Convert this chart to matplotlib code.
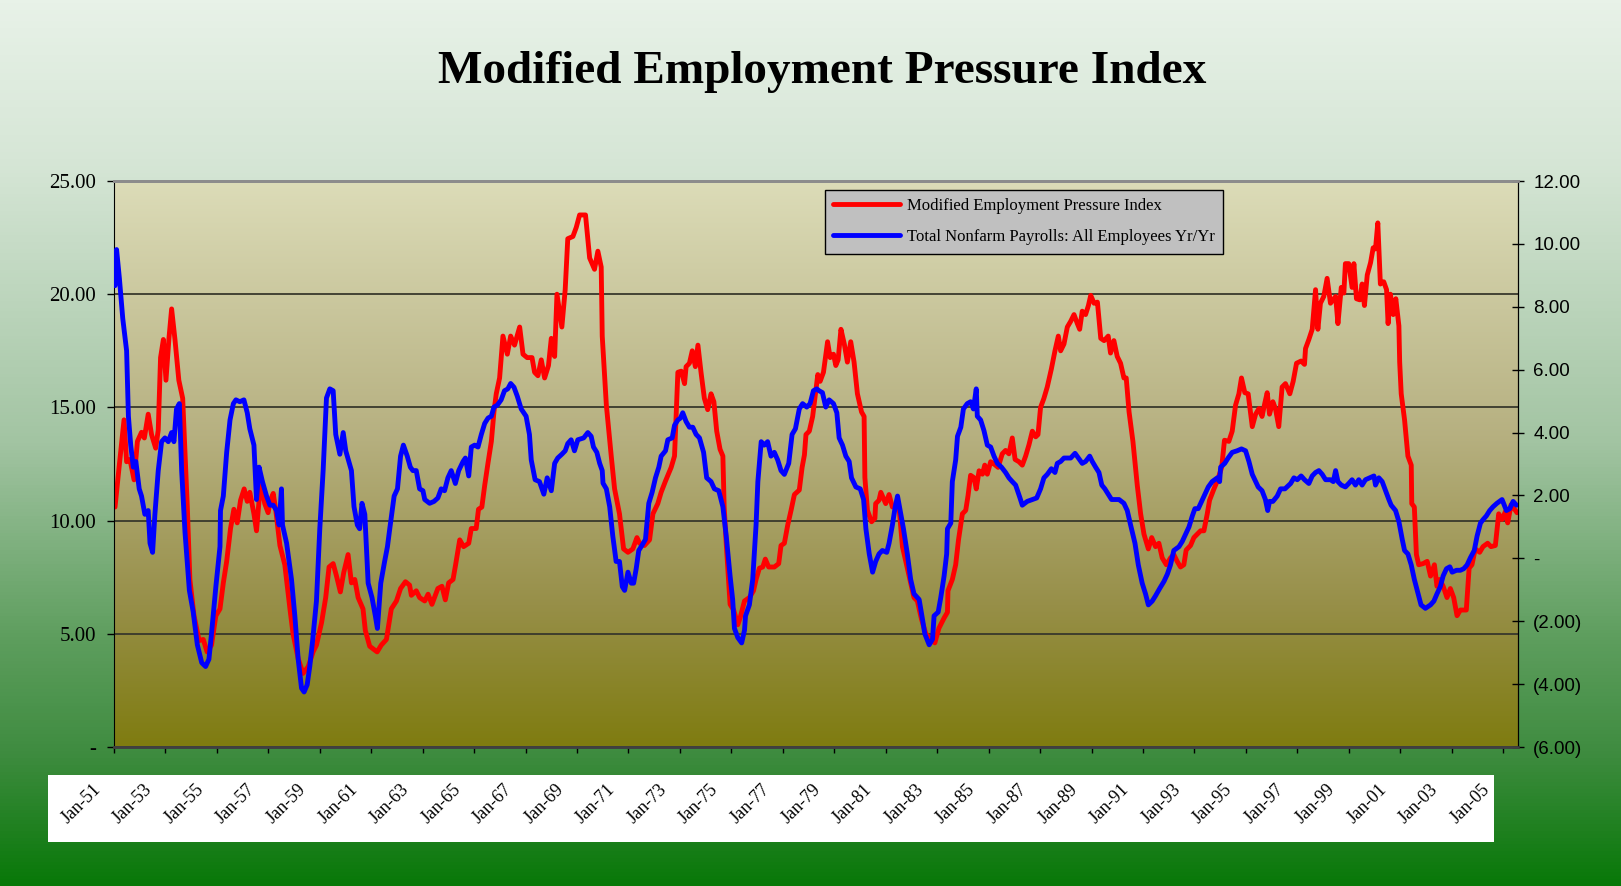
import matplotlib.pyplot as plt
import numpy as np
from matplotlib.colors import LinearSegmentedColormap
from matplotlib.patches import Rectangle
from matplotlib.transforms import ScaledTranslation

# values (x = decimal year)
# Modified Employment Pressure Index (left axis)
red_x = [1951.04, 1951.17, 1951.39, 1951.49, 1951.62, 1951.78, 1951.91, 1952.07, 1952.18, 1952.33,
         1952.46, 1952.62, 1952.72, 1952.81, 1952.92, 1953.02, 1953.14, 1953.24, 1953.37, 1953.52,
         1953.67, 1953.76, 1953.85, 1953.95, 1954.11, 1954.31, 1954.47, 1954.62, 1954.79, 1954.96,
         1955.12, 1955.25, 1955.38, 1955.53, 1955.66, 1955.79, 1955.92, 1956.06, 1956.18, 1956.28,
         1956.44, 1956.54, 1956.64, 1956.73, 1956.86, 1956.99, 1957.08, 1957.19, 1957.29, 1957.45,
         1957.64, 1957.84, 1957.96, 1958.16, 1958.35, 1958.55, 1958.74, 1958.87, 1959.07, 1959.23,
         1959.36, 1959.52, 1959.65, 1959.80, 1959.93, 1960.10,
         1960.23, 1960.36, 1960.49, 1960.68, 1960.77, 1960.94, 1961.23, 1961.39, 1961.59, 1961.78,
         1961.98, 1962.14, 1962.33, 1962.49, 1962.56, 1962.75, 1962.88, 1963.08, 1963.21, 1963.36,
         1963.59, 1963.75, 1963.88, 1964.01, 1964.18, 1964.28, 1964.44, 1964.59, 1964.79, 1964.89,
         1965.08, 1965.17, 1965.30, 1965.41, 1965.54, 1965.67, 1965.77, 1965.86, 1965.99, 1966.12,
         1966.29, 1966.42, 1966.57, 1966.77, 1966.90, 1967.06, 1967.25, 1967.35, 1967.48, 1967.61,
         1967.74, 1967.89, 1968.00, 1968.13, 1968.22, 1968.41, 1968.54, 1968.64, 1968.84, 1968.97,
         1969.10, 1969.23,
         1969.33, 1969.49, 1969.68, 1969.81, 1969.94, 1969.98, 1970.14, 1970.33, 1970.46, 1970.65,
         1970.81, 1970.98, 1971.17, 1971.33, 1971.43, 1971.62, 1971.82, 1971.95, 1972.14, 1972.27,
         1972.44, 1972.66, 1972.79, 1972.92, 1973.05, 1973.18, 1973.24, 1973.37, 1973.48, 1973.60,
         1973.70, 1973.82, 1973.95, 1974.08, 1974.21, 1974.32, 1974.43, 1974.56, 1974.67, 1974.72,
         1974.80, 1974.95, 1975.09, 1975.25, 1975.34, 1975.51, 1975.70, 1975.86, 1975.96, 1976.09,
         1976.22, 1976.32, 1976.45, 1976.67, 1976.84, 1976.93, 1977.06, 1977.19, 1977.32, 1977.45,
         1977.64, 1977.75, 1977.84, 1977.90, 1978.03, 1978.16, 1978.27, 1978.36,
         1978.45, 1978.58, 1978.74, 1978.84, 1978.97, 1979.06, 1979.15, 1979.26, 1979.39, 1979.51,
         1979.64, 1979.77, 1979.90, 1980.06, 1980.16, 1980.19, 1980.29, 1980.45, 1980.58, 1980.61,
         1980.74, 1980.81, 1980.94, 1981.00, 1981.13, 1981.26, 1981.39, 1981.52, 1981.65, 1981.84,
         1981.97, 1982.10, 1982.23, 1982.39, 1982.56, 1982.75, 1982.91, 1983.07, 1983.27, 1983.40,
         1983.42, 1983.59, 1983.72, 1983.83, 1983.98, 1984.11, 1984.20, 1984.30, 1984.43, 1984.52,
         1984.63, 1984.76, 1984.85, 1984.95, 1985.08, 1985.21, 1985.37, 1985.53, 1985.66, 1985.79,
         1985.92, 1986.03, 1986.18, 1986.31, 1986.44, 1986.57, 1986.70, 1986.83, 1986.92, 1987.02,
         1987.15, 1987.28, 1987.44,
         1987.58, 1987.71, 1987.80, 1987.93, 1988.06, 1988.19, 1988.32, 1988.45, 1988.54, 1988.64,
         1988.77, 1988.88, 1988.97, 1989.10, 1989.23, 1989.36, 1989.49, 1989.65, 1989.74, 1989.87,
         1990.00, 1990.13, 1990.26, 1990.35, 1990.46, 1990.61, 1990.78, 1990.91, 1991.04, 1991.21,
         1991.34, 1991.49, 1991.62, 1991.75, 1991.91, 1992.07, 1992.20, 1992.33, 1992.46, 1992.59,
         1992.68, 1992.85, 1992.98, 1993.11, 1993.24, 1993.37, 1993.50, 1993.59, 1993.76, 1993.89,
         1994.06, 1994.17, 1994.34, 1994.47, 1994.60, 1994.73, 1994.83, 1994.96, 1995.09, 1995.25,
         1995.38, 1995.51, 1995.63, 1995.74, 1995.83, 1995.92, 1996.05, 1996.15, 1996.28, 1996.41,
         1996.54,
         1996.71, 1996.84, 1996.97, 1997.15, 1997.28, 1997.32, 1997.45, 1997.58, 1997.71, 1997.80,
         1997.90, 1998.03, 1998.16, 1998.29, 1998.49, 1998.58, 1998.71, 1998.81, 1998.87, 1999.00,
         1999.13, 1999.20, 1999.30, 1999.43, 1999.52, 1999.61, 1999.72, 1999.85, 1999.95, 2000.04,
         2000.13, 2000.23, 2000.36, 2000.47, 2000.53, 2000.62, 2000.73, 2000.83, 2000.95, 2000.98,
         2001.04, 2001.17, 2001.30, 2001.43, 2001.45, 2001.55, 2001.63, 2001.72, 2001.89, 2002.05,
         2002.18, 2002.33, 2002.43, 2002.54, 2002.67, 2002.82, 2002.95, 2003.08, 2003.21, 2003.34,
         2003.57, 2003.68, 2003.79, 2003.92, 2004.09, 2004.22, 2004.40, 2004.53, 2004.70, 2004.83,
         2004.96, 2005.09, 2005.18, 2005.31, 2005.48, 2005.54]
red_y = [10.6, 12.05, 14.45, 12.6, 12.7, 11.8, 13.5, 13.9, 13.65, 14.7,
         13.8, 13.2, 14.0, 17.2, 18.0, 16.2, 18.1, 19.35, 18.0, 16.2,
         15.4, 13.0, 10.6, 7.4, 5.8, 4.7, 4.75, 4.2, 4.5, 5.8,
         6.1, 7.25, 8.2, 9.65, 10.5, 9.9, 10.9, 11.4, 10.85, 11.25,
         10.3, 9.55, 10.9, 11.55, 10.75, 10.35, 10.9, 11.2, 10.45, 8.9,
         8.05, 6.1, 5.0, 3.9, 3.25, 3.55, 4.2, 4.5, 5.5, 6.6,
         7.95, 8.1, 7.55, 6.85, 7.7, 8.5,
         7.25, 7.4, 6.6, 6.1, 5.15, 4.45, 4.2, 4.5, 4.75, 6.1,
         6.45, 7.0, 7.3, 7.15, 6.7, 6.9, 6.6, 6.45, 6.75, 6.3,
         7.0, 7.1, 6.5, 7.25, 7.4, 8.05, 9.15, 8.85, 9.0, 9.65,
         9.65, 10.5, 10.6, 11.55, 12.55, 13.5, 14.8, 15.6, 16.3, 18.15,
         17.35, 18.15, 17.75, 18.55, 17.35, 17.2, 17.2, 16.55, 16.4, 17.1,
         16.3, 16.85, 18.05, 17.25, 20.0, 18.55, 20.2, 22.45, 22.55, 22.95,
         23.5, 23.5,
         23.5, 21.6, 21.1, 21.9, 21.2, 18.15, 15.1, 12.85, 11.4, 10.3,
         8.75, 8.6, 8.75, 9.25, 9.0, 8.9, 9.15, 10.3, 10.75, 11.25,
         11.75, 12.35, 12.85, 16.55, 16.6, 16.05, 16.8, 16.95, 17.5, 16.8,
         17.75, 16.55, 15.4, 14.9, 15.6, 15.25, 13.95, 13.15, 12.85, 10.6,
         9.0, 6.3, 6.05, 5.4, 5.7, 6.45, 6.6, 6.9, 7.4, 7.9,
         7.95, 8.3, 7.95, 7.95, 8.1, 8.9, 9.0, 9.8, 10.45, 11.15,
         11.35, 12.35, 12.9, 13.8, 13.95, 14.6, 15.6, 16.45,
         16.15, 16.55, 17.9, 17.2, 17.35, 16.85, 17.1, 18.45, 17.8, 17.0,
         17.9, 17.0, 15.6, 14.8, 14.6, 11.9, 10.45, 9.95, 10.1, 10.75,
         10.9, 11.25, 10.9, 10.75, 11.15, 10.6, 10.7, 10.55, 8.85, 7.9,
         7.25, 6.6, 6.45, 5.65, 5.0, 4.75, 4.6, 5.25, 5.7, 5.95,
         6.9, 7.4, 8.05, 9.15, 10.3, 10.45, 11.1, 12.0, 11.9, 11.4,
         12.2, 12.05, 12.45, 12.05, 12.6, 12.5, 12.35, 12.95, 13.1, 12.95,
         13.65, 12.7, 12.6, 12.45, 12.85, 13.35, 13.95, 13.7, 13.8, 15.0,
         15.4, 15.9, 16.7,
         17.5, 18.15, 17.5, 17.8, 18.55, 18.8, 19.1, 18.7, 18.45, 19.25,
         19.1, 19.5, 19.95, 19.6, 19.65, 18.05, 17.95, 18.15, 17.4, 17.95,
         17.25, 16.95, 16.3, 16.3, 14.8, 13.5, 11.55, 10.3, 9.4, 8.75,
         9.25, 8.85, 9.0, 8.35, 8.05, 8.35, 8.5, 8.2, 7.95, 8.05,
         8.7, 8.9, 9.25, 9.4, 9.55, 9.55, 10.3, 10.9, 11.4, 11.75,
         12.35, 13.55, 13.5, 13.95, 15.1, 15.6, 16.3, 15.65, 15.6, 14.15,
         14.7, 14.95, 14.6, 15.2, 15.65, 14.7, 15.25, 14.95, 14.15, 15.9,
         16.05,
         15.6, 16.15, 16.95, 17.05, 16.9, 17.6, 18.0, 18.45, 20.2, 18.45,
         19.6, 19.9, 20.7, 19.6, 19.9, 18.7, 20.3, 20.05, 21.35, 21.35,
         20.3, 21.35, 19.8, 19.75, 20.45, 19.5, 20.85, 21.4, 22.05, 22.0,
         23.15, 20.45, 20.55, 20.2, 18.7, 20.0, 19.1, 19.8, 18.6, 17.0,
         15.6, 14.45, 12.85, 12.45, 10.75, 10.6, 8.5, 8.05, 8.1, 8.2,
         7.55, 8.05, 7.1, 7.4, 7.1, 6.6, 7.0, 6.6, 5.8, 6.05,
         6.05, 7.9, 8.05, 8.75, 8.6, 8.85, 9.0, 8.85, 8.9, 10.3,
         10.05, 10.4, 9.9, 10.7, 10.45, 10.35]

# Total Nonfarm Payrolls, yr/yr % (right axis)
blue_x = [1951.04, 1951.10, 1951.21, 1951.34, 1951.49, 1951.56, 1951.65, 1951.75, 1951.85, 1951.98,
          1952.07, 1952.20, 1952.33, 1952.40, 1952.50, 1952.59, 1952.72, 1952.85, 1952.98, 1953.11,
          1953.24, 1953.33, 1953.43, 1953.54, 1953.63, 1953.76, 1953.93, 1954.08, 1954.24, 1954.41,
          1954.56, 1954.69, 1954.79, 1954.96, 1955.12, 1955.14, 1955.25, 1955.38, 1955.51, 1955.64,
          1955.74, 1955.89, 1956.05, 1956.18, 1956.28, 1956.44, 1956.54, 1956.64, 1956.77, 1956.93,
          1957.06, 1957.19, 1957.32, 1957.42, 1957.51, 1957.55, 1957.71, 1957.90, 1958.03, 1958.16,
          1958.29, 1958.39, 1958.51, 1958.61, 1958.72, 1958.87, 1959.00, 1959.13, 1959.26, 1959.39,
          1959.52, 1959.62, 1959.78, 1959.91, 1960.01,
          1960.23, 1960.33, 1960.46, 1960.55, 1960.64, 1960.75, 1960.88, 1961.03, 1961.16, 1961.24,
          1961.37, 1961.52, 1961.63, 1961.72, 1961.89, 1962.02, 1962.14, 1962.25, 1962.40, 1962.52,
          1962.62, 1962.75, 1962.88, 1963.01, 1963.08, 1963.27, 1963.44, 1963.59, 1963.72, 1963.85,
          1963.98, 1964.11, 1964.27, 1964.40, 1964.57, 1964.66, 1964.79, 1964.89, 1965.02, 1965.15,
          1965.28, 1965.41, 1965.54, 1965.67, 1965.77, 1965.90, 1966.05, 1966.18, 1966.31, 1966.42,
          1966.55, 1966.68, 1966.83, 1967.02, 1967.15, 1967.22, 1967.37, 1967.54, 1967.71, 1967.84,
          1968.00, 1968.13, 1968.25, 1968.41, 1968.54, 1968.64, 1968.77, 1968.90, 1969.03,
          1969.26, 1969.42, 1969.55, 1969.64, 1969.77, 1969.88, 1969.98, 1970.01, 1970.14, 1970.27,
          1970.39, 1970.52, 1970.65, 1970.76, 1970.85, 1970.98, 1971.11, 1971.20, 1971.30, 1971.40,
          1971.53, 1971.66, 1971.79, 1971.92, 1972.05, 1972.18, 1972.27, 1972.44, 1972.53, 1972.70,
          1972.79, 1972.92, 1973.02, 1973.11, 1973.24, 1973.37, 1973.50, 1973.63, 1973.76, 1973.92,
          1974.04, 1974.21, 1974.34, 1974.51, 1974.67, 1974.80, 1974.95, 1975.05, 1975.12, 1975.25,
          1975.40, 1975.51, 1975.55, 1975.70, 1975.83, 1975.96, 1976.03, 1976.16, 1976.28, 1976.41,
          1976.54, 1976.67, 1976.80, 1976.93, 1977.06, 1977.23, 1977.36, 1977.49, 1977.64, 1977.77,
          1977.93, 1978.06, 1978.19, 1978.32,
          1978.41, 1978.54, 1978.67, 1978.80, 1978.97, 1979.10, 1979.19, 1979.32, 1979.45, 1979.58,
          1979.67, 1979.84, 1980.01, 1980.14, 1980.23, 1980.36, 1980.49, 1980.61, 1980.74, 1980.87,
          1981.04, 1981.13, 1981.26, 1981.37, 1981.46, 1981.56, 1981.69, 1981.84, 1981.97, 1982.10,
          1982.30, 1982.43, 1982.52, 1982.69, 1982.82, 1982.88, 1983.04, 1983.14, 1983.27, 1983.37,
          1983.40, 1983.53, 1983.59, 1983.72, 1983.79, 1983.92, 1984.02, 1984.17, 1984.30, 1984.41,
          1984.52, 1984.56, 1984.69, 1984.82, 1984.95, 1985.08, 1985.21, 1985.34, 1985.50, 1985.66,
          1985.79, 1985.92, 1986.05, 1986.22, 1986.31, 1986.50, 1986.70, 1986.87, 1987.02, 1987.15,
          1987.28, 1987.44,
          1987.58, 1987.67, 1987.80, 1987.93, 1988.06, 1988.19, 1988.36, 1988.49, 1988.64, 1988.77,
          1988.93, 1989.03, 1989.16, 1989.29, 1989.40, 1989.52, 1989.65, 1989.78, 1989.91, 1990.07,
          1990.26, 1990.39, 1990.52, 1990.69, 1990.82, 1990.97, 1991.10, 1991.21, 1991.36, 1991.49,
          1991.65, 1991.82, 1991.95, 1992.07, 1992.20, 1992.40, 1992.53, 1992.66, 1992.79, 1992.92,
          1993.02, 1993.15, 1993.28, 1993.41, 1993.54, 1993.69, 1993.89, 1993.98, 1994.02, 1994.18,
          1994.31, 1994.47, 1994.66, 1994.83, 1994.99, 1995.12, 1995.25, 1995.38, 1995.48, 1995.63,
          1995.76, 1995.85, 1995.92, 1996.05, 1996.22, 1996.35, 1996.52,
          1996.74, 1996.87, 1997.00, 1997.15, 1997.28, 1997.45, 1997.58, 1997.71, 1997.84, 1997.97,
          1998.10, 1998.29, 1998.40, 1998.49, 1998.58, 1998.71, 1998.87, 1999.00, 1999.13, 1999.26,
          1999.39, 1999.52, 1999.65, 1999.82, 1999.98, 2000.04, 2000.17, 2000.30, 2000.43, 2000.56,
          2000.65, 2000.82, 2000.95, 2001.08, 2001.17, 2001.30, 2001.43, 2001.55, 2001.68, 2001.81,
          2001.98, 2002.18, 2002.31, 2002.43, 2002.56, 2002.67, 2002.80, 2002.93, 2003.02, 2003.19,
          2003.34, 2003.47, 2003.60, 2003.73, 2003.88, 2003.99, 2004.12, 2004.22, 2004.35, 2004.48,
          2004.61, 2004.76, 2004.96, 2005.13, 2005.26, 2005.39, 2005.52]
blue_y = [8.67, 9.82, 8.9, 7.63, 6.6, 4.52, 3.6, 2.9, 3.08, 2.21,
          1.98, 1.4, 1.52, 0.48, 0.19, 1.4, 2.79, 3.71, 3.83, 3.71,
          4.0, 3.71, 4.75, 4.92, 2.79, 0.83, -1.02, -1.71, -2.75, -3.32,
          -3.44, -3.21, -2.4, -0.9, 0.37, 1.52, 1.98, 3.37, 4.4, 4.92,
          5.04, 4.98, 5.04, 4.63, 4.12, 3.6, 1.87, 2.9, 2.44, 1.98,
          1.69, 1.69, 1.52, 1.06, 2.21, 1.06, 0.48, -0.67, -1.83, -3.21,
          -4.13, -4.25, -4.02, -3.44, -2.63, -1.36, 0.94, 2.79, 5.1, 5.39,
          5.33, 3.94, 3.31, 4.0, 3.42,
          2.79, 1.64, 1.06, 0.94, 1.75, 1.4, -0.79, -1.25, -1.83, -2.23,
          -0.79, -0.1, 0.37, 0.94, 1.98, 2.21, 3.25, 3.6, 3.25, 2.9,
          2.79, 2.79, 2.21, 2.15, 1.87, 1.75, 1.81, 1.92, 2.21, 2.15,
          2.56, 2.79, 2.38, 2.79, 3.08, 3.19, 2.62, 3.54, 3.6, 3.54,
          3.94, 4.29, 4.46, 4.52, 4.81, 4.87, 5.04, 5.33, 5.39, 5.56,
          5.44, 5.15, 4.75, 4.52, 3.94, 3.13, 2.5, 2.44, 2.04, 2.56,
          2.15, 3.02, 3.19, 3.31, 3.42, 3.65, 3.77, 3.42, 3.77,
          3.83, 4.0, 3.88, 3.54, 3.37, 3.02, 2.79, 2.39, 2.21, 1.64,
          0.71, -0.1, -0.1, -0.9, -1.02, -0.44, -0.79, -0.79, -0.33, 0.25,
          0.42, 0.6, 1.75, 2.1, 2.56, 2.9, 3.25, 3.42, 3.77, 3.83,
          4.23, 4.4, 4.46, 4.63, 4.35, 4.17, 4.17, 3.94, 3.83, 3.37,
          2.56, 2.44, 2.21, 2.15, 1.64, 0.71, -0.56, -1.31, -2.23, -2.52,
          -2.69, -2.29, -1.83, -1.48, -0.67, 1.06, 2.44, 3.71, 3.6, 3.71,
          3.25, 3.37, 3.13, 2.79, 2.67, 3.02, 3.94, 4.12, 4.75, 4.92,
          4.81, 4.92, 5.33, 5.39,
          5.33, 5.27, 4.81, 5.04, 4.92, 4.63, 3.83, 3.6, 3.25, 3.08,
          2.56, 2.27, 2.21, 1.87, 0.94, 0.14, -0.44, -0.1, 0.14, 0.25,
          0.19, 0.48, 1.06, 1.64, 1.98, 1.52, 0.94, 0.14, -0.67, -1.13,
          -1.31, -1.94, -2.4, -2.75, -2.57, -1.83, -1.71, -1.25, -0.56, 0.14,
          0.94, 1.12, 2.44, 3.13, 3.88, 4.17, 4.75, 4.92, 4.98, 4.75,
          5.39, 4.52, 4.4, 4.06, 3.6, 3.54, 3.25, 3.02, 2.9, 2.73,
          2.56, 2.44, 2.33, 1.92, 1.69, 1.81, 1.87, 1.92, 2.21, 2.56,
          2.67, 2.85,
          2.73, 3.02, 3.08, 3.19, 3.19, 3.19, 3.34, 3.19, 3.02, 3.08,
          3.25, 3.08, 2.9, 2.73, 2.33, 2.21, 2.04, 1.87, 1.87, 1.87,
          1.75, 1.52, 1.06, 0.48, -0.21, -0.79, -1.13, -1.48, -1.36, -1.19,
          -0.96, -0.73, -0.5, -0.21, 0.25, 0.37, 0.54, 0.77, 1.0, 1.35,
          1.58, 1.58, 1.81, 2.04, 2.27, 2.44, 2.56, 2.44, 2.9, 3.02,
          3.19, 3.37, 3.42, 3.48, 3.42, 3.08, 2.67, 2.44, 2.27, 2.15,
          1.87, 1.52, 1.81, 1.81, 1.98, 2.21, 2.21,
          2.38, 2.56, 2.5, 2.62, 2.5, 2.38, 2.62, 2.73, 2.79, 2.67,
          2.5, 2.5, 2.44, 2.79, 2.44, 2.33, 2.27, 2.38, 2.5, 2.33,
          2.5, 2.33, 2.5, 2.56, 2.62, 2.33, 2.56, 2.44, 2.15, 1.87,
          1.69, 1.52, 1.17, 0.6, 0.25, 0.14, -0.21, -0.67, -1.07, -1.48,
          -1.59, -1.48, -1.36, -1.13, -0.9, -0.56, -0.33, -0.27, -0.44, -0.38,
          -0.38, -0.33, -0.21, 0.02, 0.25, 0.71, 1.12, 1.23, 1.35, 1.52,
          1.64, 1.75, 1.87, 1.52, 1.58, 1.81, 1.69]

tick_years = list(range(1951, 2006, 2))
tick_labels = ['Jan-%02d' % (y % 100) for y in tick_years]
left_ticks = [0, 5, 10, 15, 20, 25]
left_labels = ['-', '5.00', '10.00', '15.00', '20.00', '25.00']
right_ticks = [-6, -4, -2, 0, 2, 4, 6, 8, 10, 12]
right_labels = ['(6.00)', '(4.00)', '(2.00)', '-', '2.00', '4.00', '6.00', '8.00', '10.00', '12.00']
series_names = ['Modified Employment Pressure Index', 'Total Nonfarm Payrolls: All Employees Yr/Yr']

W, H = 1621, 886
fig = plt.figure(figsize=(W / 100, H / 100), dpi=100)

# green background gradient
bg = fig.add_axes([0, 0, 1, 1], zorder=-3)
bg.axis('off')
bg_cmap = LinearSegmentedColormap.from_list('bg', [(0, '#e8f2e8'), (0.18, '#d6e6d6'), (0.5, '#a2c4a2'),
                                                   (0.72, '#5e9e5e'), (0.85, '#3f8c40'), (1, '#087808')])
bg.imshow(np.linspace(0, 1, 256).reshape(-1, 1), cmap=bg_cmap, aspect='auto', extent=[0, 1, 0, 1], origin='upper')

# white strip behind date labels
fig.add_artist(Rectangle((48 / W, 1 - 842 / H), (1494 - 48) / W, (842 - 775) / H, transform=fig.transFigure,
                         facecolor='white', edgecolor='none', zorder=-2))

pos = [114 / W, 1 - 747 / H, (1518 - 114) / W, (747 - 181) / H]
# plot area gradient
pa = fig.add_axes(pos, zorder=-1)
pa.axis('off')
pa_cmap = LinearSegmentedColormap.from_list('pa', [(0, '#dcdcb8'), (0.45, '#b6b080'), (0.75, '#978f48'), (1, '#7f7c10')])
pa.imshow(np.linspace(0, 1, 256).reshape(-1, 1), cmap=pa_cmap, aspect='auto', extent=[0, 1, 0, 1], origin='upper')

ax = fig.add_axes(pos)
ax.patch.set_visible(False)
l1, = ax.plot(red_x, red_y, color='#ff0000', lw=3.5, solid_joinstyle='round', solid_capstyle='round')
ax.set_xlim(1951.0, 2005.58)
ax.set_ylim(0, 25)
ax.set_yticks(left_ticks)
ax.set_yticklabels(left_labels, fontfamily='Liberation Serif', fontsize=15)
ax.grid(axis='y', color='#38382c', lw=1.3)
ax.set_axisbelow(True)
ax.tick_params(axis='y', direction='out', length=5, width=1, pad=8, colors='black')
ax.set_xticks(tick_years)
ax.set_xticklabels(tick_labels, rotation=45, ha='right', fontfamily='Liberation Serif', fontsize=13)
ax.tick_params(axis='x', direction='out', length=4.5, width=1, pad=20)
for lab in ax.get_xticklabels():
    lab.set_transform(lab.get_transform() + ScaledTranslation(-10 / 100, 0, fig.dpi_scale_trans))

ax2 = ax.twinx()
l2, = ax2.plot(blue_x, blue_y, color='#0000ff', lw=3.5, solid_joinstyle='round', solid_capstyle='round')
ax2.set_ylim(-6, 12)
ax2.set_yticks(right_ticks)
ax2.set_yticklabels(right_labels, fontfamily='Liberation Sans', fontsize=13.5)
ax2.tick_params(axis='y', direction='inout', length=8, width=1, pad=7)

for a in (ax, ax2):
    a.spines['top'].set_color('#8c8c8c')
    a.spines['top'].set_linewidth(2)
    a.spines['bottom'].set_color('#404040')
    a.spines['bottom'].set_linewidth(1.8)
    a.spines['left'].set_color('black')
    a.spines['right'].set_color('black')
ax2.spines['left'].set_visible(False)

fig.text(0.507, 0.919, 'Modified Employment Pressure Index', ha='center', va='center',
         fontsize=34, fontweight='bold', family='Liberation Serif')

leg = fig.legend([l1, l2], series_names, loc='upper right', bbox_to_anchor=(1223 / W, 1 - 190 / H),
                 bbox_transform=fig.transFigure, frameon=True, fancybox=False, facecolor='#c0c0c0',
                 edgecolor='black', framealpha=1, prop={'family': 'Liberation Serif', 'size': 12},
                 handlelength=4, handletextpad=0.4, labelspacing=0.9, borderpad=0.5, borderaxespad=0)
leg.get_frame().set_linewidth(1)

fig.savefig('out.png', dpi=100)
